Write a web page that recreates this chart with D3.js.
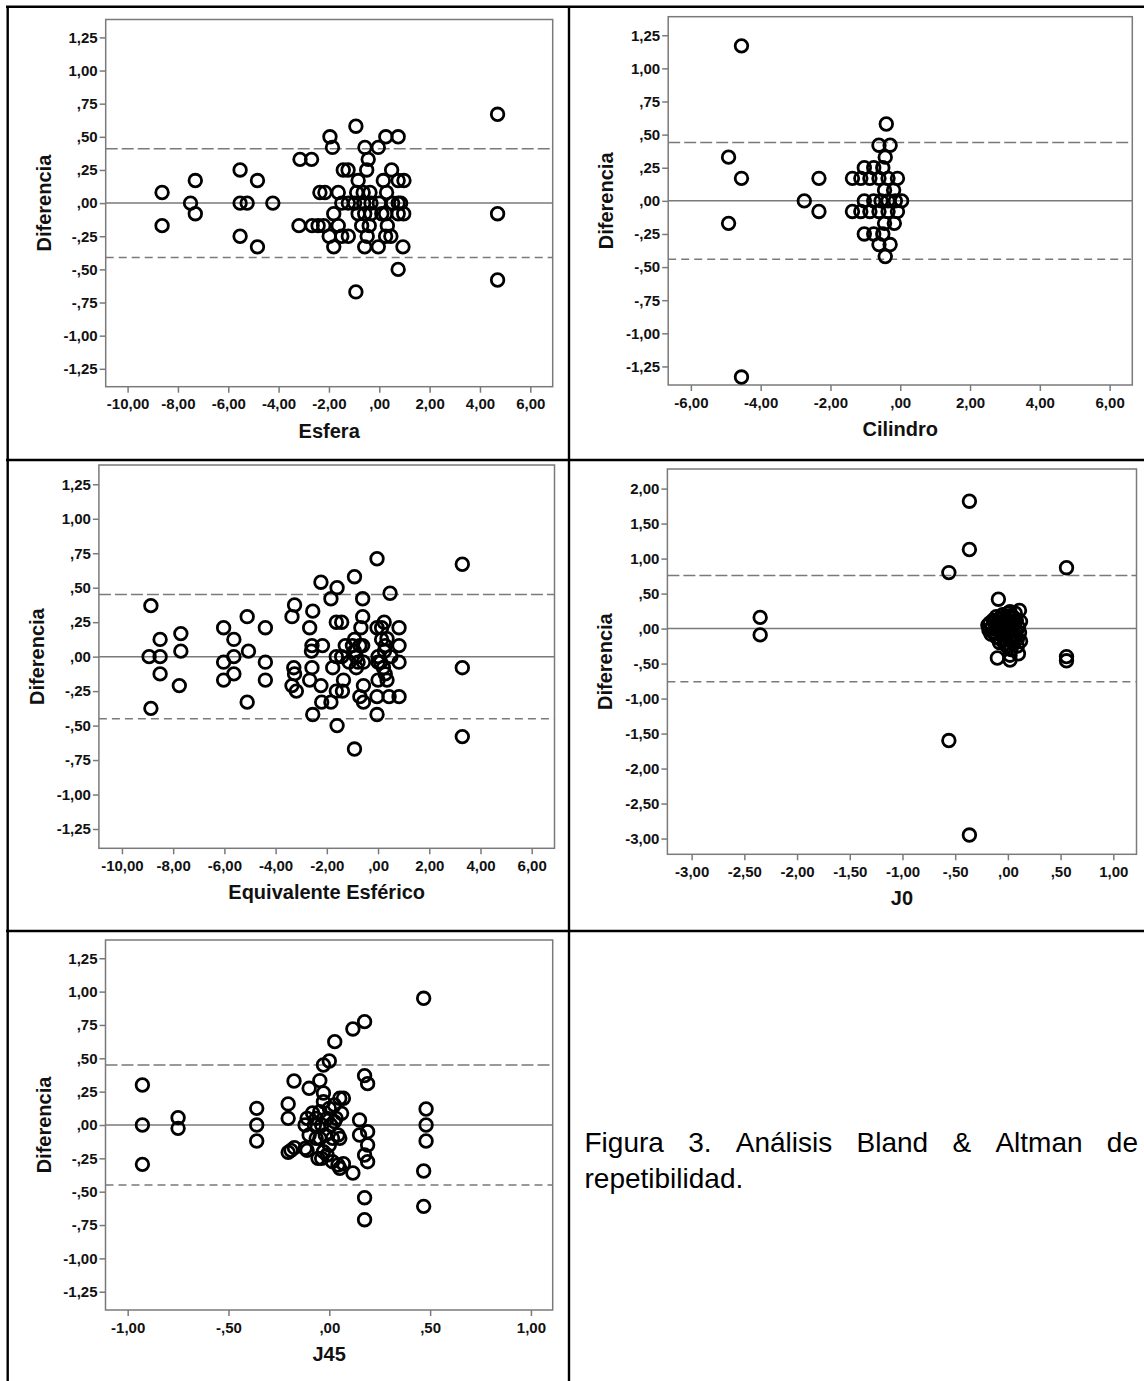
<!DOCTYPE html>
<html>
<head>
<meta charset="utf-8">
<script src="https://cdn.jsdelivr.net/npm/d3@7"></script>
<style>
  body { margin: 0; background: #fff; }
  text { font-family: "Liberation Sans", Arial, sans-serif; }
</style>
</head>
<body>
<svg id="fig"></svg>
<script>
// ---- data ----
// tick values
var ticksDif = [-1.25, -1, -0.75, -0.5, -0.25, 0, 0.25, 0.5, 0.75, 1, 1.25];
var ticksDifJ0 = [-3, -2.5, -2, -1.5, -1, -0.5, 0, 0.5, 1, 1.5, 2];
var ticksEsfera = [-10, -8, -6, -4, -2, 0, 2, 4, 6];
var ticksCil = [-6, -4, -2, 0, 2, 4, 6];
var ticksJ0 = [-3, -2.5, -2, -1.5, -1, -0.5, 0, 0.5, 1];
var ticksJ45 = [-1, -0.5, 0, 0.5, 1];

// limits of agreement (mean diff is 0)
var limits = [0.41, 0.44, 0.45, 0.76, 0.45];

// Esfera
var esferaX = [-8.63, -8.63, -7.5, -7.31, -7.31, -5.53, -5.53, -5.25, -5.53, -4.84, -4.84, -4.23,
  -0.93,
  -1.96, 0.26, 0.75,
  -1.86, -0.57, -0.04,
  -3.15, -2.69, -0.44,
  -1.43, -1.24, -0.5, 0.49,
  -0.84, 0.16, 0.75, 0.98,
  -2.36, -2.16, -1.63, -0.9, -0.64, -0.37, 0.29,
  -1.49, -1.23, -0.98, -0.62, -0.33, 0, 0.53, 0.75, 0.85,
  -1.81, -0.84, -0.58, -0.33, 0.1, 0.25, 0.75, 0.97,
  -3.19, -2.67, -2.43, -2.21, -1.63, -0.7, -0.4, 0.32,
  -1.99, -1.49, -1.23, -0.48, 0.25, 0.46,
  -1.81, -0.58, -0.04, 0.94,
  0.75,
  -0.93,
  4.7, 4.7, 4.7];
var esferaDif = [0.08, -0.17, 0, 0.17, -0.08, 0.25, 0, 0, -0.25, 0.17, -0.33, 0,
  0.58,
  0.5, 0.5, 0.5,
  0.42, 0.42, 0.42,
  0.33, 0.33, 0.33,
  0.25, 0.25, 0.25, 0.25,
  0.17, 0.17, 0.17, 0.17,
  0.08, 0.08, 0.08, 0.08, 0.08, 0.08, 0.08,
  0, 0, 0, 0, 0, 0, 0, 0, 0,
  -0.08, -0.08, -0.08, -0.08, -0.08, -0.08, -0.08, -0.08,
  -0.17, -0.17, -0.17, -0.17, -0.17, -0.17, -0.17, -0.17,
  -0.25, -0.25, -0.25, -0.25, -0.25, -0.25,
  -0.33, -0.33, -0.33, -0.33,
  -0.5,
  -0.67,
  0.67, -0.08, -0.58];

// Cilindro
var cilX = [-4.55, -4.55, -4.92, -4.92, -4.55, -2.75, -2.33, -2.33,
  -0.4,
  -0.61, -0.29,
  -0.43,
  -1.03, -0.76, -0.5,
  -1.37, -1.13, -0.87, -0.61, -0.35, -0.08,
  -0.45, -0.19,
  -1.03, -0.76, -0.55, -0.35, -0.14, 0.04,
  -1.37, -1.13, -0.87, -0.61, -0.35, -0.08,
  -0.45, -0.17,
  -1.03, -0.76, -0.5,
  -0.61, -0.29,
  -0.43];
var cilDif = [1.17, -1.33, 0.33, -0.17, 0.17, 0, 0.17, -0.08,
  0.58,
  0.42, 0.42,
  0.33,
  0.25, 0.25, 0.25,
  0.17, 0.17, 0.17, 0.17, 0.17, 0.17,
  0.08, 0.08,
  0, 0, 0, 0, 0, 0,
  -0.08, -0.08, -0.08, -0.08, -0.08, -0.08,
  -0.17, -0.17,
  -0.25, -0.25, -0.25,
  -0.33, -0.33,
  -0.42];

// Equivalente Esférico
var eqX = [-8.87, -8.87, -8.94, -8.51, -8.51, -8.51, -7.7, -7.7, -7.76,
  -6.03, -6.03, -6.03, -5.63, -5.63, -5.63, -5.11, -5.06, -5.11, -4.4, -4.4, -4.4,
  -3.26, -3.36, -3.29, -3.26, -3.36, -3.19,
  -2.55, -2.67, -2.58, -2.6, -2.58, -2.67, -2.55,
  -2.23, -2.17, -2.23, -2.2,
  -1.84, -1.6, -1.63, -1.42, -1.77, -1.84, -1.6, -1.63, -1.42, -1.28, -1.63, -1.39, -1.35, -1.13,
  -0.92, -0.92, -0.92, -0.71, -0.92, -0.85, -0.78, -1.0, -0.85,
  -0.6, -0.6, -0.67, -0.6, -0.57, -0.57, -0.71, -0.57,
  -0.04, -0.04, 0, 0, 0, -0.04, -0.04,
  0.24, 0.14, 0.28, 0.21, 0.28, 0.35, 0.47, 0.43, 0.5, 0.1, 0.25, 0.35, 0.14,
  0.82, 0.82, 0.82, 0.82,
  3.29, 3.29, 3.29];
var eqDif = [0.37, -0.375, 0, 0.125, 0, -0.125, 0.167, 0.04, -0.21,
  0.21, -0.04, -0.17, 0.125, 0, -0.125, 0.29, 0.04, -0.33, 0.21, -0.04, -0.17,
  0.375, 0.29, -0.08, -0.125, -0.21, -0.25,
  0.33, 0.21, 0.08, 0.04, -0.08, -0.17, -0.42,
  0.54, 0.08, -0.21, -0.33,
  0.42, 0.5, 0.25, 0.25, -0.08, -0.33, -0.5, 0, 0, 0.08, -0.25, -0.25, -0.17, -0.04,
  0.58, 0.125, 0.04, 0.08, -0.67, -0.08, -0.04, 0.08, 0,
  0.42, 0.29, 0.21, 0.08, -0.04, -0.21, -0.29, -0.33,
  0.71, 0.21, 0, -0.04, -0.17, -0.29, -0.42,
  0.25, 0.125, 0.08, -0.08, -0.125, -0.17, 0.46, -0.29, 0, -0.04, 0.04, 0.13, 0.21,
  0.21, 0.08, -0.04, -0.29,
  0.67, -0.08, -0.58];

// J0
var j0X = [-2.35, -2.35, -0.56, -0.56, -0.365, -0.365, -0.365, 0.556, 0.556, 0.556,
  -0.09, -0.1, 0.02, 0.1, 0.02,
  -0.19, -0.18, -0.17, -0.16, -0.15, -0.14, -0.13, -0.12, -0.11, -0.1, -0.09, -0.08, -0.08, -0.07,
  -0.06, -0.05, -0.05, -0.04, -0.03, -0.03, -0.02, -0.01, 0, 0, 0.01, 0.01, 0.02, 0.02, 0.03, 0.03,
  0.04, 0.05, 0.05, 0.06, 0.07, 0.07, 0.08, 0.09, 0.1, 0.11, 0.11, 0.12, 0.12,
  -0.14, -0.11, -0.07, -0.04, -0.01, 0.02, 0.05, 0.08, -0.12, -0.06, 0, 0.06, 0.09, -0.03, 0.03];
var j0Dif = [0.16, -0.09, 0.8, -1.6, 1.82, 1.13, -2.95, 0.87, -0.4, -0.46,
  0.42, -0.42, -0.45, -0.36, -0.38,
  0.05, -0.02, 0.08, -0.08, 0.02, -0.05, 0.1, 0, -0.12, 0.06, -0.03, 0.14, -0.2, 0.02,
  -0.1, 0.09, 0.2, -0.04, 0.12, -0.16, 0.03, -0.25, 0.07, -0.07, 0.18, 0, -0.13, 0.24, 0.1, -0.3,
  -0.02, 0.16, -0.2, 0.05, 0.22, -0.09, 0.12, -0.15, 0.02, 0.26, -0.06, -0.18, 0.1,
  0.12, 0.17, -0.15, 0.16, 0.1, 0.06, -0.11, -0.04, -0.06, 0.04, 0.22, 0.15, -0.25, -0.22, -0.18];

// J45
var j45X = [-0.927, -0.927, -0.927, -0.75, -0.75, -0.36, -0.36, -0.36,
  -0.204, -0.204, -0.204, -0.175, -0.173, -0.19,
  -0.1, -0.047, -0.029, 0, 0.027, 0.117, 0.175, 0.468,
  0.175, 0.19, 0.15, 0.15, 0.19, 0.19, 0.175, 0.19, 0.175, 0.175, 0.117,
  0.48, 0.48, 0.48, 0.468, 0.468,
  -0.12, -0.11, -0.1, -0.11, -0.083, -0.074, -0.065, -0.056, -0.047, -0.038, -0.029, -0.02,
  -0.011, 0, 0, 0.007, 0.016, 0.025, 0.034, 0.043, 0.052, 0.07, 0.061, 0.043, 0.016, 0.052,
  0.07, -0.038, -0.029, -0.011, -0.029, 0.025, 0.052, -0.065, -0.047, -0.12];
var j45Dif = [0.3, 0, -0.295, 0.055, -0.025, 0.125, 0, -0.12,
  0.158, 0.05, -0.205, 0.33, -0.17, -0.19,
  0.275, 0.333, 0.45, 0.48, 0.625, 0.72, 0.775, 0.95,
  0.37, 0.31, 0.038, -0.075, -0.05, -0.15, -0.225, -0.275, -0.545, -0.71, -0.36,
  0.12, 0, -0.12, -0.345, -0.61,
  0, 0.05, -0.075, -0.19, 0.09, 0, -0.1, -0.25, 0.1, 0, 0.175, -0.075,
  0.05, 0.125, -0.15, 0, -0.1, 0.15, 0.05, -0.075, 0.2, 0.2, 0.0875, -0.3, -0.275, -0.325,
  -0.29, -0.25, -0.2, -0.225, 0.24, 0.025, -0.1, 0.05, -0.1, -0.175];

// ---- layout ----
var W = 1144, H = 1381;
var svg = d3.select("#fig").attr("width", W).attr("height", H);

var panels = [
  {x: esferaX, y: esferaDif, title: "Esfera", box: [105.7, 19.5, 552.7, 386.7],
   xDomain: [-10.87, 6.89], yDomain: [-1.385, 1.385], xTicks: ticksEsfera, yTicks: ticksDif, limit: limits[0]},
  {x: cilX, y: cilDif, title: "Cilindro", box: [668.2, 16.7, 1132.3, 385],
   xDomain: [-6.65, 6.65], yDomain: [-1.39, 1.39], xTicks: ticksCil, yTicks: ticksDif, limit: limits[1]},
  {x: eqX, y: eqDif, title: "Equivalente Esférico", box: [98.9, 465, 554.5, 848.3],
   xDomain: [-10.9, 6.89], yDomain: [-1.39, 1.39], xTicks: ticksEsfera, yTicks: ticksDif, limit: limits[2]},
  {x: j0X, y: j0Dif, title: "J0", box: [667.4, 469, 1136.5, 854.3],
   xDomain: [-3.23, 1.22], yDomain: [-3.225, 2.28], xTicks: ticksJ0, yTicks: ticksDifJ0, limit: limits[3]},
  {x: j45X, y: j45Dif, title: "J45", box: [105.5, 940, 552.7, 1310],
   xDomain: [-1.11, 1.108], yDomain: [-1.387, 1.387], xTicks: ticksJ45, yTicks: ticksDif, limit: limits[4]}
];

// SPSS style numbers: 0.25 -> ",25", -1 -> "-1,00"
function spss(v) {
  var s = d3.format(".2f")(Math.abs(v)).replace(".", ",");
  if (s.charAt(0) === "0") s = s.slice(1);
  return (v < 0 ? "-" : "") + s;
}

var axisGrey = "#7a7a7a";

function build_panel(p) {
  var x0 = p.box[0], y0 = p.box[1], x1 = p.box[2], y1 = p.box[3];
  var xScale = d3.scaleLinear().domain(p.xDomain).range([x0, x1]);
  var yScale = d3.scaleLinear().domain(p.yDomain).range([y1, y0]);
  var g = svg.append("g");

  // axes
  var gx = g.append("g")
    .attr("transform", `translate(0,${y1})`)
    .call(d3.axisBottom(xScale).tickValues(p.xTicks).tickSize(6).tickPadding(6).tickFormat(spss));
  var gy = g.append("g")
    .attr("transform", `translate(${x0},0)`)
    .call(d3.axisLeft(yScale).tickValues(p.yTicks).tickSize(6).tickPadding(2).tickFormat(spss));
  [gx, gy].forEach(function(a) {
    a.select(".domain").remove();
    a.selectAll(".tick line").attr("stroke", axisGrey).attr("stroke-width", 1.5);
    a.selectAll(".tick text")
      .attr("fill", "#111")
      .style("font-family", '"Liberation Sans", Arial, sans-serif')
      .style("font-size", "15px")
      .style("font-weight", "bold");
  });

  // reference lines
  g.append("line")
    .attr("x1", x0).attr("x2", x1)
    .attr("y1", yScale(0)).attr("y2", yScale(0))
    .attr("stroke", axisGrey).attr("stroke-width", 1.5);
  g.append("line")
    .attr("x1", x0).attr("x2", x1)
    .attr("y1", yScale(p.limit)).attr("y2", yScale(p.limit))
    .attr("stroke", axisGrey).attr("stroke-width", 1.5)
    .attr("stroke-dasharray", "12,4");
  g.append("line")
    .attr("x1", x0).attr("x2", x1)
    .attr("y1", yScale(-p.limit)).attr("y2", yScale(-p.limit))
    .attr("stroke", axisGrey).attr("stroke-width", 1.5)
    .attr("stroke-dasharray", "8,5");

  // frame
  g.append("rect")
    .attr("x", x0).attr("y", y0)
    .attr("width", x1 - x0).attr("height", y1 - y0)
    .attr("fill", "none")
    .attr("stroke", axisGrey).attr("stroke-width", 1.5);

  // points
  g.append("g").selectAll("circle")
    .data(d3.range(p.x.length))
    .enter()
    .append("circle")
    .attr("cx", i => xScale(p.x[i]))
    .attr("cy", i => yScale(p.y[i]))
    .attr("r", 6.3)
    .attr("fill", "none")
    .attr("stroke", "#000")
    .attr("stroke-width", 2.8);

  // titles
  g.append("text")
    .attr("x", (x0 + x1) / 2)
    .attr("y", y1 + 51)
    .attr("text-anchor", "middle")
    .style("font-size", "20px")
    .style("font-weight", "bold")
    .attr("fill", "#111")
    .text(p.title);
  g.append("text")
    .attr("transform", `translate(${x0 - 62},${(y0 + y1) / 2}) rotate(-90)`)
    .attr("text-anchor", "middle")
    .attr("dy", "0.35em")
    .style("font-size", "20px")
    .style("font-weight", "bold")
    .attr("fill", "#111")
    .text("Diferencia");
}

panels.forEach(build_panel);

// table borders
var borders = [
  [6, 6.8, W, 6.8], [7.7, 6, 7.7, H],
  [6, 460, W, 460], [6, 931, W, 931],
  [569, 6, 569, H]
];
svg.append("g").selectAll("line")
  .data(borders)
  .enter()
  .append("line")
  .attr("x1", d => d[0]).attr("y1", d => d[1])
  .attr("x2", d => d[2]).attr("y2", d => d[3])
  .attr("stroke", "#000")
  .attr("stroke-width", 2.4);

// caption, first line justified
var captionLine1 = ["Figura", "3.", "Análisis", "Bland", "&", "Altman", "de"];
var captionLine2 = "repetibilidad.";
var capLeft = 584.5, capRight = 1138, capSize = "28px";
var cap = svg.append("g").attr("fill", "#000").style("font-size", capSize);
var words = cap.selectAll("text.w")
  .data(captionLine1)
  .enter()
  .append("text")
  .attr("class", "w")
  .attr("y", 1152)
  .text(d => d);
var widths = [];
words.each(function() { widths.push(this.getComputedTextLength()); });
var gap = (capRight - capLeft - d3.sum(widths)) / (captionLine1.length - 1);
var cx = capLeft;
words.attr("x", function(d, i) { var v = cx; cx += widths[i] + gap; return v; });
cap.append("text")
  .attr("x", capLeft)
  .attr("y", 1188)
  .text(captionLine2);
</script>
</body>
</html>
